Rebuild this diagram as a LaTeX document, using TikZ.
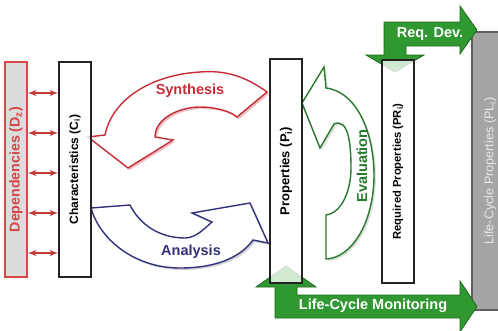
\documentclass[tikz,border=0pt]{standalone}
\usepackage{fontspec}
\setmainfont{Liberation Sans}
\usepackage{graphicx}
\usetikzlibrary{arrows}

\definecolor{synred}{RGB}{200,45,55}
\definecolor{anablue}{RGB}{50,50,125}
\definecolor{evgreen}{RGB}{40,122,45}
\definecolor{flowgreen}{RGB}{48,152,48}
\definecolor{flowline}{RGB}{30,105,30}
\definecolor{depred}{RGB}{215,70,70}
\definecolor{depfill}{RGB}{220,220,220}
\definecolor{linkred}{RGB}{195,55,55}
\definecolor{plgray}{RGB}{165,165,165}
\definecolor{plline}{RGB}{95,95,95}
\definecolor{pltext}{RGB}{232,232,232}
\definecolor{boxline}{RGB}{35,35,35}

\newcommand\lblfont{\fontsize{14.5}{16}\selectfont\bfseries}

% outlines of the three bent block arrows
\newcommand\synthesisshape{(267,92) .. controls (245,76) and (225,70) .. (200,72)
  .. controls (150,75) and (112,100) .. (105,135) -- (88,137) -- (128,168) -- (173,140)
  -- (155,137) .. controls (155,118) and (180,107) .. (200,107)
  .. controls (215,107) and (230,111) .. (237,117) -- cycle}
\newcommand\analysisshape{(91,208) -- (130,205) .. controls (140,225) and (160,238) .. (185,238)
  .. controls (196,238) and (205,228) .. (212,222) -- (192,213) -- (250,203) -- (268,243)
  -- (253,240) .. controls (240,258) and (215,268) .. (180,268)
  .. controls (135,268) and (100,240) .. (91,208) -- cycle}
\newcommand\evaluationshape{(302,103) -- (324,67) -- (326,88) .. controls (358,92) and (374,135) .. (374,175)
  .. controls (374,222) and (352,258) .. (326,259) -- (326,215)
  .. controls (342,213) and (351,190) .. (351,168) .. controls (351,142) and (348,118) .. (334,124)
  -- (320,148) -- cycle}

\tikzstyle{box} = [draw=boxline, line width=1.2pt, fill=white, fill opacity=0.78,
text opacity=1, inner sep=0pt, font=\bfseries]
\tikzstyle{depbox} = [box, draw=depred, fill=depfill, fill opacity=1, text=depred]
\tikzstyle{plbox} = [box, draw=plline, fill=plgray, fill opacity=1, text=pltext, font=\mdseries]
\tikzstyle{link} = [<->, draw=linkred, line width=2pt]
\tikzstyle{flow} = [fill=flowgreen, draw=flowline, line width=0.8pt, line join=miter]
\tikzstyle{bent} = [fill=white, line width=1.4pt, line join=miter]

\begin{document}
\begin{tikzpicture}[x=1pt, y=-1pt, >=latex']
    \clip (0,0) rectangle (498,330);

    % bent arrows with their shadows
    \fill[synred!30, shift={(2,2)}] \synthesisshape;
    \draw[bent, draw=synred] \synthesisshape;
    \fill[gray!35, shift={(2,2)}] \analysisshape;
    \draw[bent, draw=anablue] \analysisshape;
    \fill[gray!25, shift={(2,2)}] \evaluationshape;
    \draw[bent, draw=evgreen] \evaluationshape;

    \node[font=\lblfont, text=synred] (synth) at (190,91) {Synthesis};
    \node[font=\lblfont, text=anablue] (ana) at (191,252) {Analysis};
    \node[font=\lblfont, text=evgreen, rotate=90] (eval) at (362,166) {Evaluation};

    % life-cycle box sits behind the green arrows
    \node[plbox, minimum width=36, minimum height=278] (life) at (490,171)
        {\rotatebox{90}{\fontsize{12.6}{14}\selectfont Life-Cycle Properties (PL\textsubscript{i})}};

    % green arrows
    \draw[flow] (384,55) -- (366,55) -- (395,72) -- (424,55) -- (406,55) -- (406,46)
        -- (460,46) -- (460,54) -- (477,30) -- (460,6) -- (460,22) -- (384,22) -- cycle;
    \draw[flow] (275,287) -- (256,287) -- (286,266) -- (316,287) -- (297,287) -- (297,295)
        -- (460,295) -- (460,281) -- (477,306.5) -- (460,332) -- (460,318) -- (275,318) -- cycle;
    \node[font=\lblfont, text=white] (reqdev) at (430,34) {Req. Dev.};
    \node[font=\lblfont, text=white] (monitor) at (373,306) {Life-Cycle Monitoring};

    % the vertical blocks
    \node[depbox, minimum width=22, minimum height=215] (dep) at (16,169.5)
        {\rotatebox{90}{\fontsize{14.2}{16}\selectfont Dependencies (D\textsubscript{z})}};
    \node[box, minimum width=32, minimum height=215] (char) at (75,169.5)
        {\rotatebox{90}{\fontsize{12}{14}\selectfont Characteristics (C\textsubscript{i})}};
    \node[box, minimum width=32, minimum height=224] (prop) at (286,171)
        {\rotatebox{90}{\fontsize{13}{14}\selectfont Properties (P\textsubscript{i})}};
    \node[box, minimum width=32, minimum height=223] (req) at (398,171.5)
        {\rotatebox{90}{\fontsize{11.2}{13}\selectfont Required Properties (PR\textsubscript{i})}};

    % links between dependencies and characteristics
    \draw[link] (dep.east |- 0,93) -- (char.west |- 0,93);
    \draw[link] (dep.east |- 0,133) -- (char.west |- 0,133);
    \draw[link] (dep.east |- 0,173) -- (char.west |- 0,173);
    \draw[link] (dep.east |- 0,213) -- (char.west |- 0,213);
    \draw[link] (dep.east |- 0,253) -- (char.west |- 0,253);
\end{tikzpicture}
\end{document}
